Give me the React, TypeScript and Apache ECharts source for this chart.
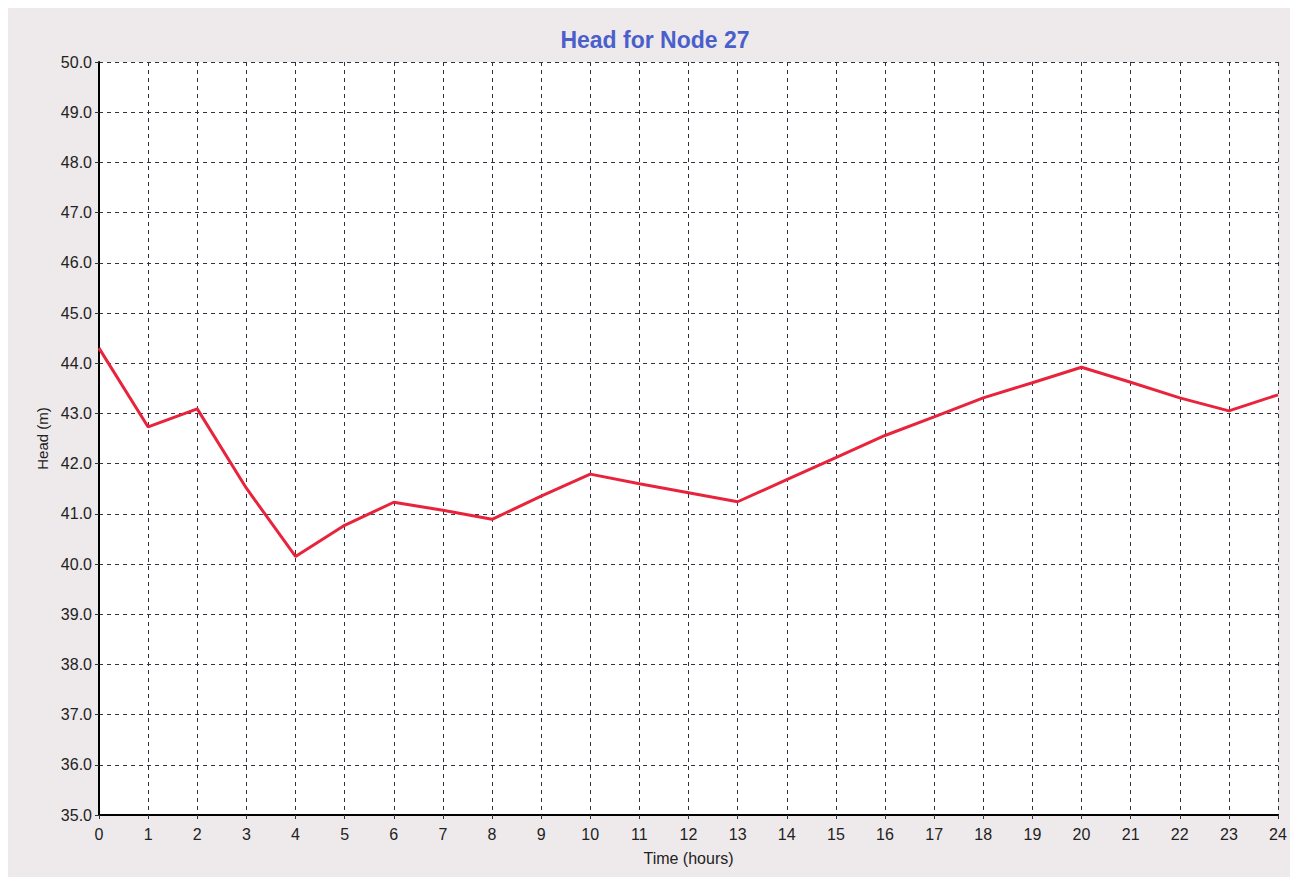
import React, { useEffect, useRef } from "react";
import * as echarts from "echarts";

const hours = [0, 1, 2, 3, 4, 5, 6, 7, 8, 9, 10, 11, 12, 13, 14, 15, 16, 17, 18, 19, 20, 21, 22, 23, 24];
const head = [44.3, 42.73, 43.09, 41.51, 40.15, 40.77, 41.23, 41.07, 40.89, 41.35, 41.79, 41.6, 41.42, 41.24, 41.68, 42.12, 42.56, 42.93, 43.31, 43.61, 43.92, 43.62, 43.31, 43.05, 43.37];
const title = "Head for Node 27";
const xName = "Time (hours)";
const yName = "Head (m)";

export default function App() {
  const ref = useRef<HTMLDivElement>(null);
  useEffect(() => {
    if (!ref.current) return;
    const chart = echarts.init(ref.current, null, { renderer: "svg" });
    const font = "Liberation Sans, Arial, sans-serif";
    chart.setOption({
      animation: false,
      backgroundColor: "#eeeaeb",
      graphic: [
        {
          type: "text",
          x: 647,
          y: 32,
          style: {
            text: title,
            fill: "#4a5fcc",
            font: `bold 23px ${font}`,
            textAlign: "center",
            textVerticalAlign: "middle",
          },
        },
      ],
      grid: {
        left: 91,
        top: 54,
        right: 12,
        bottom: 62,
        show: true,
        backgroundColor: "#ffffff",
        borderWidth: 0,
      },
      xAxis: {
        type: "value",
        min: 0,
        max: 24,
        interval: 1,
        name: xName,
        nameLocation: "middle",
        nameGap: 35,
        nameTextStyle: { color: "#222", fontSize: 16, fontFamily: font },
        axisLine: { show: true, onZero: false, lineStyle: { color: "#000", width: 2 } },
        axisTick: { show: true, length: 4, lineStyle: { color: "#333" } },
        axisLabel: { color: "#222", fontSize: 16, fontFamily: font, margin: 11 },
        splitLine: { show: true, lineStyle: { color: "#333340", type: [4, 4], width: 1 } },
      },
      yAxis: {
        type: "value",
        min: 35,
        max: 50,
        interval: 1,
        name: yName,
        nameLocation: "middle",
        nameGap: 48,
        nameRotate: 90,
        nameTextStyle: { color: "#222", fontSize: 15, fontFamily: font },
        axisLine: { show: true, onZero: false, lineStyle: { color: "#000", width: 2 } },
        axisTick: { show: true, length: 4, lineStyle: { color: "#333" } },
        axisLabel: {
          color: "#222",
          fontSize: 16,
          fontFamily: font,
          margin: 7,
          formatter: (v: number) => v.toFixed(1),
        },
        splitLine: { show: true, lineStyle: { color: "#333340", type: [4, 4], width: 1 } },
      },
      series: [
        {
          type: "line",
          data: hours.map((h, i) => [h, head[i]]),
          showSymbol: false,
          symbol: "none",
          lineStyle: { color: "#e8243c", width: 3 },
        },
      ],
    });
    return () => chart.dispose();
  }, []);
  return (
    <div
      ref={ref}
      style={{ position: "absolute", left: 8, top: 8, width: 1282, height: 869 }}
    />
  );
}
